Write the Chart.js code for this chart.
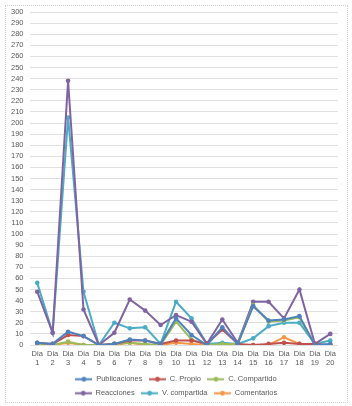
<!DOCTYPE html>
<html>
<head>
<meta charset="utf-8">
<script src="https://cdn.jsdelivr.net/npm/chart.js@4/dist/chart.umd.min.js"></script>
<style>
  html, body { margin: 0; padding: 0; background: #fff; }
  #wrap { position: relative; width: 352px; height: 406px; }
  #frame { position: absolute; left: 5px; top: 5px; width: 341px; height: 396px; border: 1px dotted #cfcfcf; pointer-events: none; }
</style>
</head>
<body>
<div id="wrap">
  <canvas id="chart" width="352" height="406"></canvas>
  <div id="frame"></div>
</div>
<script>
// ---- data ----
const days = ['1','2','3','4','5','6','7','8','9','10','11','12','13','14','15','16','17','18','19','20'];

const publicaciones = [2, 1, 12, 8, 0, 1, 5, 4, 1, 24, 9, 0, 16, 1, 35, 22, 23, 26, 0, 1];
const cPropio       = [2, 1, 9, 8, 0, 1, 4, 4, 1, 4, 4, 1, 14, 1, 0, 1, 2, 1, 1, 0];
const cCompartido   = [0, 0, 3, 0, 0, 1, 2, 1, 0, 21, 5, 0, 1, 1, 36, 21, 22, 25, 0, 0];
const reacciones    = [48, 11, 238, 32, 0, 11, 41, 31, 18, 27, 21, 1, 23, 2, 39, 39, 24, 50, 1, 10];
const vCompartida   = [56, 11, 205, 48, 0, 20, 15, 16, 1, 39, 24, 1, 2, 1, 6, 17, 20, 20, 1, 4];
const comentarios   = [0, 0, 2, 0, 0, 0, 2, 0, 0, 2, 1, 0, 0, 0, 0, 0, 7, 1, 0, 0];

const yMax = 300;
const yStep = 10;

const FONT = '"Liberation Sans", Arial, sans-serif';
const TEXT = '#595959';
const LEGEND_W = 236;   // narrower legend so it wraps 3 + 3 like the original
const LEGEND_LIFT = 3;  // pull legend rows up a bit closer to the axis labels

// legend icon: short line with a dot in the middle
function legendIcon(color) {
  const c = document.createElement('canvas');
  c.width = 17; c.height = 7;
  const g = c.getContext('2d');
  g.strokeStyle = color; g.lineWidth = 2;
  g.beginPath(); g.moveTo(0, 3.5); g.lineTo(17, 3.5); g.stroke();
  g.fillStyle = color;
  g.beginPath(); g.arc(8.5, 3.5, 2.4, 0, Math.PI * 2); g.fill();
  return c;
}

function series(label, data, color) {
  return {
    label, data,
    borderColor: color,
    backgroundColor: color,
    pointBackgroundColor: color,
    pointBorderColor: color,
    pointRadius: 2.3,
    pointBorderWidth: 0,
    borderWidth: 2,
    tension: 0,
    icon: legendIcon(color)
  };
}

// squeeze the legend box after layout so rows break after three entries
const narrowLegend = {
  id: 'narrowLegend',
  afterLayout(chart) {
    const lg = chart.legend;
    if (!lg) return;
    const top = lg.top, h = lg.height;
    lg.maxWidth = LEGEND_W;
    lg.fit();
    lg.left = (chart.width - LEGEND_W) / 2;
    lg.right = lg.left + LEGEND_W;
    lg.width = LEGEND_W;
    lg.top = top - LEGEND_LIFT;
    lg.bottom = lg.top + h;
    lg.height = h;
  }
};

new Chart(document.getElementById('chart'), {
  type: 'line',
  data: {
    labels: days.map(d => ['Dia', d]),
    datasets: [
      series('Publicaciones', publicaciones, '#4F81BD'),
      series('C. Propio', cPropio, '#C0504D'),
      series('C. Compartido', cCompartido, '#9BBB59'),
      series('Reacciones', reacciones, '#8064A2'),
      series('V. compartida', vCompartida, '#4BACC6'),
      series('Comentarios', comentarios, '#F79646')
    ]
  },
  plugins: [narrowLegend],
  options: {
    responsive: false,
    animation: false,
    layout: { padding: { left: 5, right: 14, top: 12, bottom: -4 } },
    plugins: {
      tooltip: { enabled: false },
      legend: {
        position: 'bottom',
        labels: {
          usePointStyle: true,
          pointStyleWidth: 17,
          boxHeight: 7,
          padding: 6.5,
          color: TEXT,
          font: { family: FONT, size: 7.5 },
          generateLabels: chart => chart.data.datasets.map((ds, i) => ({
            text: ds.label,
            pointStyle: ds.icon,
            fillStyle: ds.borderColor,
            strokeStyle: ds.borderColor,
            lineWidth: 0,
            fontColor: TEXT,
            hidden: false,
            datasetIndex: i
          }))
        }
      }
    },
    scales: {
      x: {
        offset: true,
        grid: { display: false, drawTicks: false },
        border: { display: false },
        ticks: { color: TEXT, font: { family: FONT, size: 7.5 }, maxRotation: 0, autoSkip: false, padding: 4.5 }
      },
      y: {
        min: 0, max: yMax,
        grid: { color: '#e0e0e0', lineWidth: 1, drawTicks: false },
        border: { display: false },
        ticks: { stepSize: yStep, autoSkip: false, color: TEXT, font: { family: FONT, size: 7.5 }, padding: 6 }
      }
    }
  }
});
</script>
</body>
</html>
